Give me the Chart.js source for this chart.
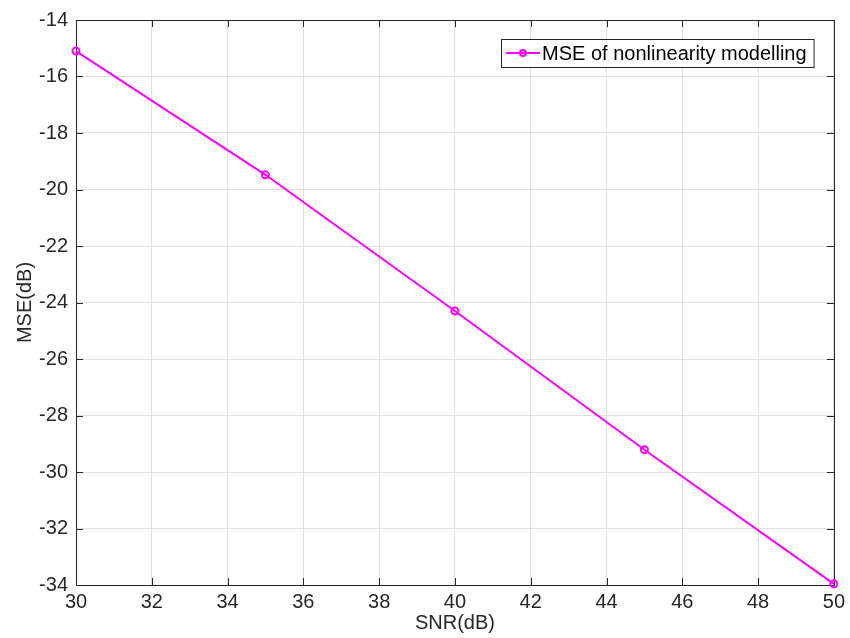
<!DOCTYPE html>
<html>
<head>
<meta charset="utf-8">
<script src="https://cdn.jsdelivr.net/npm/chart.js@4.4.1/dist/chart.umd.min.js"></script>
<style>
html,body{margin:0;padding:0;background:#fff;}
#wrap{width:850px;height:638px;position:relative;}
</style>
</head>
<body>
<div id="wrap"><canvas id="c" width="850" height="638"></canvas></div>
<script>
const snr = [30, 35, 40, 45, 50];
const mse = [-15.1, -19.48, -24.3, -29.21, -33.96];
const seriesLabel = 'MSE of nonlinearity modelling';
const xTitle = 'SNR(dB)';
const yTitle = 'MSE(dB)';
const xRange = [30, 50];
const yRange = [-34, -14];
const tickStep = 2;

const FONT = '"Liberation Sans", Arial, Helvetica, sans-serif';
const AXC = '#262626';
const GRID = '#e0e0e0';
const MAG = '#ff00ff';

const framePlugin = {
  id: 'frame',
  beforeDatasetsDraw(chart) {
    const {ctx, chartArea: a, scales} = chart;
    ctx.save();
    ctx.strokeStyle = AXC;
    ctx.lineWidth = 1;
    const tl = 7;
    ctx.beginPath();
    scales.x.ticks.forEach(t => {
      const px = Math.round(scales.x.getPixelForValue(t.value)) + 0.5;
      ctx.moveTo(px, a.bottom); ctx.lineTo(px, a.bottom - tl);
      ctx.moveTo(px, a.top); ctx.lineTo(px, a.top + tl);
    });
    scales.y.ticks.forEach(t => {
      const py = Math.round(scales.y.getPixelForValue(t.value)) + 0.5;
      ctx.moveTo(a.left, py); ctx.lineTo(a.left + tl, py);
      ctx.moveTo(a.right, py); ctx.lineTo(a.right - tl, py);
    });
    ctx.stroke();
    ctx.strokeRect(Math.round(a.left) + 0.5, Math.round(a.top) + 0.5,
                   Math.round(a.right - a.left), Math.round(a.bottom - a.top));
    ctx.restore();
  },
  afterDraw(chart) {
    const {ctx, chartArea: a} = chart;
    const ds = chart.data.datasets[0];
    ctx.save();
    ctx.font = '20px ' + FONT;
    const tw = ctx.measureText(ds.label).width;
    const h = 28;
    const w = 41 + tw + 7;
    const x1 = Math.round(a.right - 20 - w);
    const y1 = Math.round(a.top + 19);
    ctx.fillStyle = '#fff';
    ctx.fillRect(x1, y1, w, h);
    ctx.strokeStyle = AXC;
    ctx.lineWidth = 1;
    ctx.strokeRect(x1 + 0.5, y1 + 0.5, w, h);
    const cy = y1 + h / 2;
    ctx.strokeStyle = MAG;
    ctx.lineWidth = 2;
    ctx.beginPath();
    ctx.moveTo(x1 + 5, cy); ctx.lineTo(x1 + 39, cy);
    ctx.stroke();
    ctx.beginPath();
    ctx.arc(x1 + 22, cy, 3, 0, Math.PI * 2);
    ctx.stroke();
    ctx.fillStyle = '#000';
    ctx.textBaseline = 'middle';
    ctx.textAlign = 'left';
    ctx.fillText(ds.label, x1 + 41, cy + 1);
    ctx.restore();
  }
};

new Chart(document.getElementById('c'), {
  type: 'line',
  data: {
    datasets: [{
      label: seriesLabel,
      data: snr.map((x, i) => ({x: x, y: mse[i]})),
      borderColor: MAG,
      borderWidth: 2,
      pointRadius: 3.5,
      pointBorderWidth: 2,
      pointBackgroundColor: 'rgba(255,255,255,0)',
      pointBorderColor: MAG,
      tension: 0,
      clip: false
    }]
  },
  options: {
    responsive: false,
    animation: false,
    devicePixelRatio: 1,
    layout: {padding: {top: 18, right: 15, left: 0, bottom: 0}},
    plugins: {legend: {display: false}, tooltip: {enabled: false}},
    scales: {
      x: {
        type: 'linear',
        min: xRange[0], max: xRange[1],
        ticks: {stepSize: tickStep, color: AXC, font: {size: 20, family: FONT}, padding: 5, maxRotation: 0},
        grid: {color: GRID, drawTicks: false},
        border: {display: false},
        title: {display: true, text: xTitle, color: AXC, font: {size: 20, family: FONT}, padding: {top: 0, bottom: 3}},
        afterFit(s) { s.height = 53; }
      },
      y: {
        type: 'linear',
        min: yRange[0], max: yRange[1],
        ticks: {stepSize: tickStep, color: AXC, font: {size: 20, family: FONT}, padding: 8},
        grid: {color: GRID, drawTicks: false},
        border: {display: false},
        title: {display: true, text: yTitle, color: AXC, font: {size: 20, family: FONT}, padding: {top: 13, bottom: 0}},
        afterFit(s) { s.width = 76; }
      }
    }
  },
  plugins: [framePlugin]
});
</script>
</body>
</html>
